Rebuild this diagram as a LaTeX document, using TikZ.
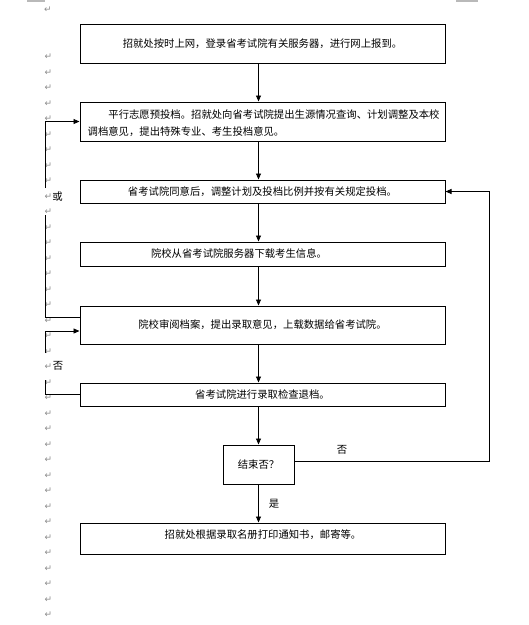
\documentclass[tikz,border=0pt]{standalone}
\usepackage{fontspec}
\newfontfamily\cjk{Noto Sans CJK SC}
\newfontfamily\dejavu{DejaVu Sans}
\usetikzlibrary{arrows.meta}
\newcommand\cjkf{\cjk\fontsize{10.35}{17}\selectfont}
\newcommand\pmf{\dejavu\fontsize{9}{9}\selectfont}
\tikzset{
  box/.style={draw, line width=1pt, minimum width=365pt, inner sep=0pt, font=\cjkf},
  dbox/.style={draw, line width=1pt, minimum width=71pt, minimum height=39pt, inner sep=0pt, font=\cjkf},
  txt/.style={font=\cjkf, inner sep=0pt},
  arr/.style={line width=0.9pt, -{Triangle[length=6pt,width=5pt]}},
  ln/.style={line width=0.9pt},
  pm/.style={font=\pmf, text=gray!90, inner sep=0pt},
  corner/.style={draw=gray!55, line width=1.2pt}
}
\begin{document}
\begin{tikzpicture}[x=1pt,y=-1pt]
\useasboundingbox[fill=white] (0,0) rectangle (529,625);
% page corner marks
\draw[corner] (27,1) -- (45,1);
\draw[corner] (456,1) -- (478,1);
% paragraph marks
\node[pm] (pmtop) at (48,10) {↵};
\foreach \k in {0,...,36} {
  \node[pm] (pm\k) at (48.5,{57+15.5*\k}) {↵};
}
% boxes
\node[box, minimum height=39pt] (b1) at (262.5,43.5) {招就处按时上网，登录省考试院有关服务器，进行网上报到。};
\node[box, minimum height=39pt] (b2) at (262.5,121.5) {};
\node[txt, anchor=west, align=left] (t2) at (87.5,123.5) {\hspace*{2em}平行志愿预投档。招就处向省考试院提出生源情况查询、计划调整及本校\\调档意见，提出特殊专业、考生投档意见。};
\node[box, minimum height=23pt] (b3) at (262.5,191.5) {省考试院同意后，调整计划及投档比例并按有关规定投档。};
\node[box, minimum height=24pt] (b4) at (262.5,254) {};
\node[txt] (t4) at (239,254) {院校从省考试院服务器下载考生信息。};
\node[box, minimum height=38pt] (b5) at (262.5,325) {院校审阅档案，提出录取意见，上载数据给省考试院。};
\node[box, minimum height=23pt] (b6) at (262.5,394.5) {省考试院进行录取检查退档。};
\node[dbox] (d) at (258.5,464.5) {结束否？};
\node[box, minimum height=31pt] (b7) at (262.5,538.5) {};
\node[txt] (t7) at (263,535) {招就处根据录取名册打印通知书，邮寄等。};
% main flow
\draw[arr] (b1.south -| d.center) -- (b2.north -| d.center);
\draw[arr] (b2.south -| d.center) -- (b3.north -| d.center);
\draw[arr] (b3.south -| d.center) -- (b4.north -| d.center);
\draw[arr] (b4.south -| d.center) -- (b5.north -| d.center);
\draw[arr] (b5.south -| d.center) -- (b6.north -| d.center);
\draw[arr] (b6.south -| d.center) -- (d.north);
\draw[arr] (d.south) -- (b7.north -| d.center);
% right loop
\coordinate (r1) at (489,461);
\draw[arr] (d.east |- r1) -- (r1) -- (r1 |- b3.east) -- (b3.east);
% left loop 1
\coordinate (l1a) at (45,317);
\coordinate (l1b) at (45,215);
\coordinate (l1c) at (45,188);
\draw[ln] (b5.west |- l1a) -- (l1a) -- (l1b);
\draw[arr] (l1c) -- (l1c |- b2.west) -- (b2.west);
% left loop 2
\coordinate (l2a) at (45,380);
\coordinate (l2b) at (45,353);
\coordinate (l2c) at (45,331);
\draw[ln] (b6.west) -- (b6.west -| l2a) -- (l2a);
\draw[arr] (l2b) -- (l2c) -- (b5.west |- l2c);
% labels
\node[txt] (lor) at (57.5,197) {或};
\node[txt] (lno1) at (58,366) {否};
\node[txt] (lno2) at (342,450) {否};
\node[txt] (lyes) at (274,504) {是};
\end{tikzpicture}
\end{document}
